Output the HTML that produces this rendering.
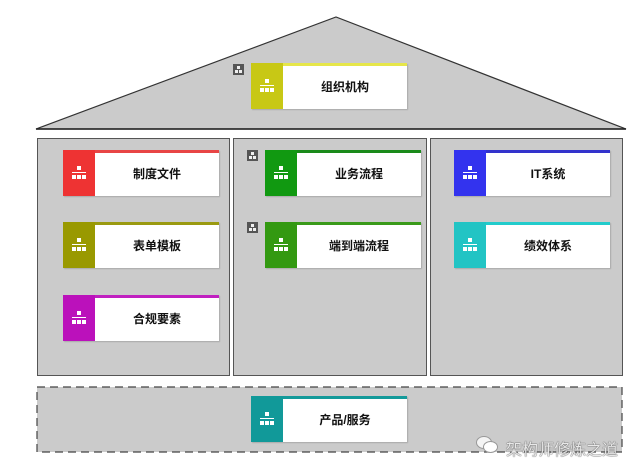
<!DOCTYPE html>
<html><head><meta charset="utf-8"><style>
body{margin:0;width:640px;height:476px;background:#fff;position:relative;overflow:hidden;font-family:"Liberation Sans","Noto Sans CJK SC",sans-serif}
.p{position:absolute;background:#cbcbcb;border:1.5px solid #555;box-sizing:border-box}
.c{position:absolute;width:156px;height:46px;background:#fff;box-sizing:border-box;border-top:3px solid;box-shadow:1px 1px 1px #aaa}
.c .s{position:absolute;left:0;top:-3px;width:32px;height:46px}
.c .t{position:absolute;left:32px;right:0;top:-3px;bottom:0;display:flex;align-items:center;justify-content:center;font-size:12px;font-weight:bold;color:#111}
.ic{position:absolute;left:9px;top:16px;width:14px;height:14px}
.ic i{position:absolute;background:#fff}
.sm{position:absolute;width:11px;height:11px;background:#555}
.sm i{position:absolute;background:#eee}
</style></head><body>
<svg width="640" height="476" style="position:absolute;left:0;top:0">
<polygon points="36,129 336,17 626,129" fill="#cbcbcb" stroke="#333" stroke-width="1.2"/>
<line x1="36" y1="129" x2="626" y2="129" stroke="#222" stroke-width="1.5"/>
<rect x="37" y="387" width="585" height="65" fill="#cbcbcb" stroke="#444" stroke-width="1.2" stroke-dasharray="8,5"/>
</svg>
<div class="p" style="left:37px;top:138px;width:193px;height:238px"></div>
<div class="p" style="left:233px;top:138px;width:194px;height:238px"></div>
<div class="p" style="left:430px;top:138px;width:193px;height:238px"></div>

<div class="sm" style="left:233px;top:64px"><i style="left:4px;top:2px;width:3px;height:3px"></i><i style="left:2px;top:6px;width:3px;height:3px"></i><i style="left:6px;top:6px;width:3px;height:3px"></i></div>
<div class="sm" style="left:247px;top:150px"><i style="left:4px;top:2px;width:3px;height:3px"></i><i style="left:2px;top:6px;width:3px;height:3px"></i><i style="left:6px;top:6px;width:3px;height:3px"></i></div>
<div class="sm" style="left:247px;top:222px"><i style="left:4px;top:2px;width:3px;height:3px"></i><i style="left:2px;top:6px;width:3px;height:3px"></i><i style="left:6px;top:6px;width:3px;height:3px"></i></div>

<div class="c" style="left:251px;top:63px;border-color:#e6e64a"><div class="s" style="background:#c8c815"><div class="ic"><i style="left:5px;top:0;width:4px;height:4px"></i><i style="left:0;top:6px;width:14px;height:1px"></i><i style="left:0;top:9px;width:4px;height:4px"></i><i style="left:5px;top:9px;width:4px;height:4px"></i><i style="left:10px;top:9px;width:4px;height:4px"></i></div></div><div class="t">组织机构</div></div>

<div class="c" style="left:63px;top:150px;border-color:#e84545"><div class="s" style="background:#ee3333"><div class="ic"><i style="left:5px;top:0;width:4px;height:4px"></i><i style="left:0;top:6px;width:14px;height:1px"></i><i style="left:0;top:9px;width:4px;height:4px"></i><i style="left:5px;top:9px;width:4px;height:4px"></i><i style="left:10px;top:9px;width:4px;height:4px"></i></div></div><div class="t">制度文件</div></div>
<div class="c" style="left:63px;top:222px;border-color:#9a9a10"><div class="s" style="background:#999900"><div class="ic"><i style="left:5px;top:0;width:4px;height:4px"></i><i style="left:0;top:6px;width:14px;height:1px"></i><i style="left:0;top:9px;width:4px;height:4px"></i><i style="left:5px;top:9px;width:4px;height:4px"></i><i style="left:10px;top:9px;width:4px;height:4px"></i></div></div><div class="t">表单模板</div></div>
<div class="c" style="left:63px;top:295px;border-color:#c020c0"><div class="s" style="background:#bb11bb"><div class="ic"><i style="left:5px;top:0;width:4px;height:4px"></i><i style="left:0;top:6px;width:14px;height:1px"></i><i style="left:0;top:9px;width:4px;height:4px"></i><i style="left:5px;top:9px;width:4px;height:4px"></i><i style="left:10px;top:9px;width:4px;height:4px"></i></div></div><div class="t">合规要素</div></div>

<div class="c" style="left:265px;top:150px;border-color:#1a8a1a"><div class="s" style="background:#119911"><div class="ic"><i style="left:5px;top:0;width:4px;height:4px"></i><i style="left:0;top:6px;width:14px;height:1px"></i><i style="left:0;top:9px;width:4px;height:4px"></i><i style="left:5px;top:9px;width:4px;height:4px"></i><i style="left:10px;top:9px;width:4px;height:4px"></i></div></div><div class="t">业务流程</div></div>
<div class="c" style="left:265px;top:222px;border-color:#3a9a1a"><div class="s" style="background:#339911"><div class="ic"><i style="left:5px;top:0;width:4px;height:4px"></i><i style="left:0;top:6px;width:14px;height:1px"></i><i style="left:0;top:9px;width:4px;height:4px"></i><i style="left:5px;top:9px;width:4px;height:4px"></i><i style="left:10px;top:9px;width:4px;height:4px"></i></div></div><div class="t">端到端流程</div></div>

<div class="c" style="left:454px;top:150px;border-color:#3333cc"><div class="s" style="background:#3333ee"><div class="ic"><i style="left:5px;top:0;width:4px;height:4px"></i><i style="left:0;top:6px;width:14px;height:1px"></i><i style="left:0;top:9px;width:4px;height:4px"></i><i style="left:5px;top:9px;width:4px;height:4px"></i><i style="left:10px;top:9px;width:4px;height:4px"></i></div></div><div class="t">IT系统</div></div>
<div class="c" style="left:454px;top:222px;border-color:#22cccc"><div class="s" style="background:#22c4c4"><div class="ic"><i style="left:5px;top:0;width:4px;height:4px"></i><i style="left:0;top:6px;width:14px;height:1px"></i><i style="left:0;top:9px;width:4px;height:4px"></i><i style="left:5px;top:9px;width:4px;height:4px"></i><i style="left:10px;top:9px;width:4px;height:4px"></i></div></div><div class="t">绩效体系</div></div>

<div class="c" style="left:251px;top:396px;border-color:#149a9a"><div class="s" style="background:#119999"><div class="ic"><i style="left:5px;top:0;width:4px;height:4px"></i><i style="left:0;top:6px;width:14px;height:1px"></i><i style="left:0;top:9px;width:4px;height:4px"></i><i style="left:5px;top:9px;width:4px;height:4px"></i><i style="left:10px;top:9px;width:4px;height:4px"></i></div></div><div class="t">产品/服务</div></div>

<div style="position:absolute;left:476px;top:436px;width:22px;height:18px;">
<div style="position:absolute;left:0;top:0;width:14px;height:11px;border-radius:50%;background:#f4f4f4;border:1px solid #999"></div>
<div style="position:absolute;left:7px;top:5px;width:13px;height:10px;border-radius:50%;background:#fff;border:1px solid #999"></div>
</div>
<div style="position:absolute;left:506px;top:436px;font-size:16px;color:#e8e8e8;text-shadow:0 0 1px #555,0 0 1px #555">架构师修炼之道</div>
</body></html>
